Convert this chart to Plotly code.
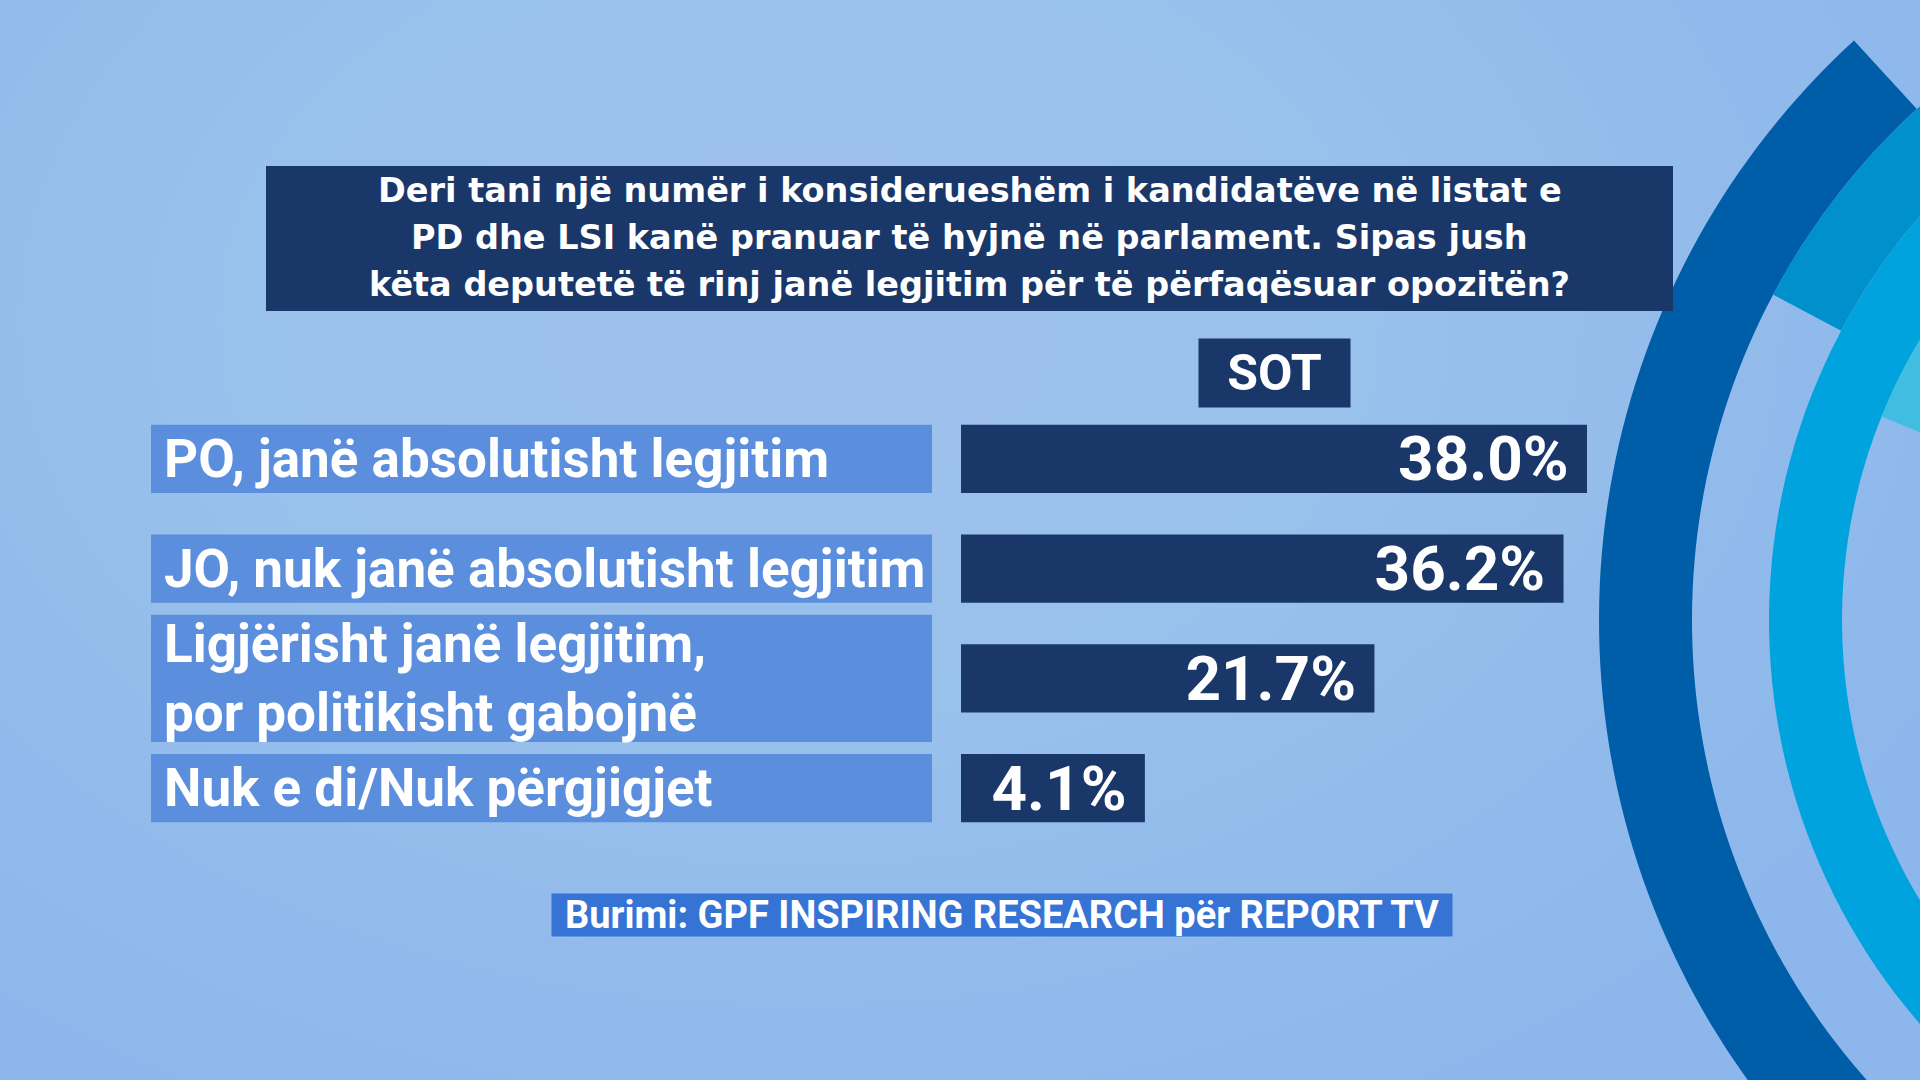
import numpy as np
import plotly.graph_objects as go

# Data
categories = [
    "PO, janë absolutisht legjitim",
    "JO, nuk janë absolutisht legjitim",
    "Ligjërisht janë legjitim,<br>por politikisht gabojnë",
    "Nuk e di/Nuk përgjigjet",
]
values = [38.0, 36.2, 21.7, 4.1]
value_labels = ["38.0%", "36.2%", "21.7%", "4.1%"]
column_label = "SOT"
question_lines = [
    "Deri tani një numër i konsiderueshëm i kandidatëve në listat e",
    "PD dhe LSI kanë pranuar të hyjnë në parlament. Sipas jush",
    "këta deputetë të rinj janë legjitim për të përfaqësuar opozitën?",
]
source = "Burimi: GPF INSPIRING RESEARCH për REPORT TV"

W, H = 1920, 1080
FONT = "Roboto, 'DejaVu Sans', sans-serif"
WIDE_FONT = "'DejaVu Sans', Roboto, sans-serif"
NAVY = "#1a3769"
LABEL_BLUE = "#5b8edd"
BAR_OFFSET = 10  # bars start a little left of zero, like the original graphic

fig = go.Figure()

# label boxes (left column)
fig.add_trace(go.Bar(
    y=categories, x=[1] * len(categories), orientation="h",
    width=[0.62, 0.62, 1.16, 0.62],
    marker=dict(color=LABEL_BLUE, line=dict(width=0)),
    xaxis="x", yaxis="y", hoverinfo="skip", showlegend=False,
))

# value bars (right column), drawn from -BAR_OFFSET up to the value
fig.add_trace(go.Bar(
    y=categories, x=[v + BAR_OFFSET for v in values], base=-BAR_OFFSET,
    orientation="h", width=0.62, customdata=values,
    marker=dict(color=NAVY, line=dict(width=0)),
    text=[t + "\u00a0" for t in value_labels],
    textposition="inside", insidetextanchor="end", constraintext="none",
    textangle=0,
    textfont=dict(family=FONT, size=62, color="white", weight="bold"),
    xaxis="x2", yaxis="y", showlegend=False,
    hovertemplate="%{y}: %{customdata:.1f}%<extra></extra>",
))

# category text on the label boxes
annotations = []
for cat in categories:
    annotations.append(dict(
        x=0, y=cat, xref="x", yref="y", xanchor="left", yanchor="middle",
        xshift=11, text=cat, showarrow=False, align="left",
        font=dict(family=FONT, size=53, color="white", weight="bold"),
    ))

# question box
shapes = [dict(
    type="rect", xref="paper", yref="paper", layer="above",
    x0=266 / W, x1=1673 / W, y0=1 - 311 / H, y1=1 - 166 / H,
    fillcolor=NAVY, line=dict(width=0),
)]
for line, yc in zip(question_lines, [191, 238, 285]):
    annotations.append(dict(
        x=969.5 / W, y=1 - yc / H, xref="paper", yref="paper",
        xanchor="center", yanchor="middle", text=line, showarrow=False,
        font=dict(family=WIDE_FONT, size=33.5, color="white", weight="bold"),
    ))

# column header
annotations.append(dict(
    x=0.5, y=1 - 372.5 / H, xref="x2 domain", yref="paper",
    xanchor="center", yanchor="middle", text=column_label, showarrow=False,
    width=151, height=68, bgcolor=NAVY, borderpad=0,
    font=dict(family=FONT, size=50, color="white", weight="bold"),
))

# source box
annotations.append(dict(
    x=1002 / W, y=1 - 915 / H, xref="paper", yref="paper",
    xanchor="center", yanchor="middle", text=source, showarrow=False,
    width=900, height=42, bgcolor="#3573d5", borderpad=0,
    font=dict(family=FONT, size=38, color="white", weight="bold"),
))


# background decoration: soft highlight + arcs on the right
def ring_path(r_in, r_out, a0, a1, cx=2385, cy=620, n=90):
    t = np.radians(np.linspace(a0, a1, n))
    pts = [(cx + r_out * np.cos(a), cy + r_out * np.sin(a)) for a in t]
    pts += [(cx + r_in * np.cos(a), cy + r_in * np.sin(a)) for a in t[::-1]]
    return "M " + " L ".join(f"{x / W:.5f},{1 - y / H:.5f}" for x, y in pts) + " Z"


for r in np.linspace(1250, 250, 16):
    shapes.append(dict(
        type="circle", xref="paper", yref="paper", layer="below",
        x0=(800 - r) / W, x1=(800 + r) / W,
        y0=1 - (320 + r * 0.7) / H, y1=1 - (320 - r * 0.7) / H,
        fillcolor="white", opacity=0.014, line=dict(width=0),
    ))

rings = [
    (693, 786, 125, 227.5, "#005ea8"),
    (616, 693, 208, 262, "#0091cc"),
    (543, 616, 120, 262, "#00a3de"),
    (470, 543, 202, 262, "#41bde2"),
]
for r_in, r_out, a0, a1, col in rings:
    shapes.append(dict(
        type="path", xref="paper", yref="paper", layer="below",
        path=ring_path(r_in, r_out, a0, a1), fillcolor=col, line=dict(width=0),
    ))

fig.update_layout(
    width=W, height=H,
    margin=dict(l=0, r=0, t=0, b=0),
    paper_bgcolor="#8db6ec",
    plot_bgcolor="rgba(0,0,0,0)",
    barmode="overlay",
    xaxis=dict(domain=[151 / W, 932 / W], range=[0, 1], visible=False, fixedrange=True),
    xaxis2=dict(domain=[961 / W, 1587 / W], range=[-BAR_OFFSET, 38], visible=False,
                anchor="y", fixedrange=True),
    yaxis=dict(domain=[1 - 843 / H, 1 - 404 / H], range=[3.5, -0.5], visible=False,
               fixedrange=True),
    annotations=annotations,
    shapes=shapes,
    showlegend=False,
)

fig.write_html("out.html", config={"displayModeBar": False},
               post_script="document.body.style.margin='0px';")
